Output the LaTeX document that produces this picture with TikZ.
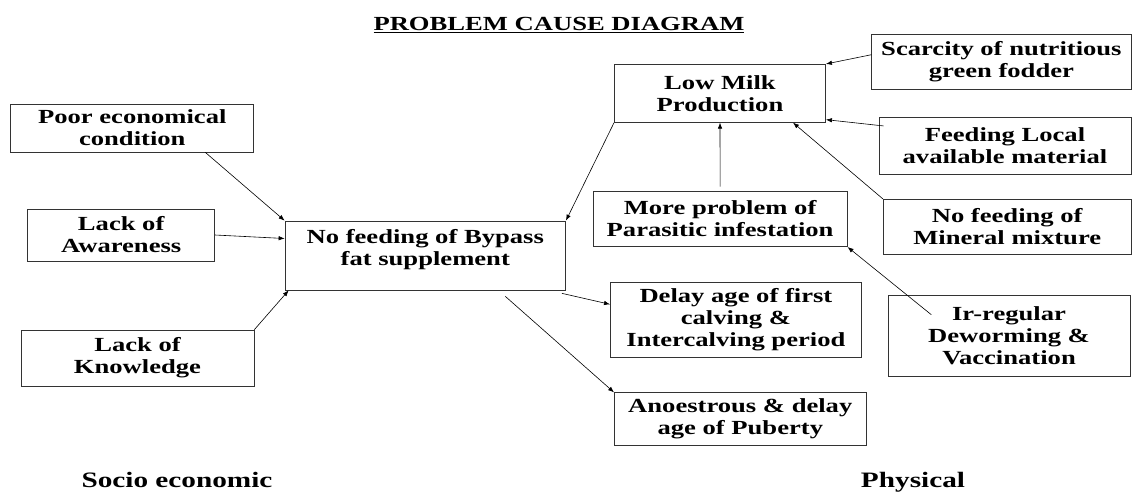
\documentclass[tikz,border=0pt]{standalone}
\usepackage{fontspec}
\setmainfont{Liberation Serif}[FakeStretch=1.33]
\usetikzlibrary{arrows.meta}

\begin{document}
\begin{tikzpicture}[x=1pt, y=-1pt,
  cause/.style={draw=black!80, line width=0.7pt, inner sep=0pt, align=center,
    font=\fontsize{20}{22}\selectfont\bfseries},
  link/.style={-{Latex[length=6pt,width=4.5pt]}, line width=0.6pt},
  side/.style={anchor=base, inner sep=0pt, font=\fontsize{22}{24}\selectfont\bfseries}]
  \useasboundingbox (0,0) rectangle (1134,493);

  % Title
  \node[anchor=base, font=\fontsize{20}{22}\selectfont\bfseries] (title) at (559,30.5) {\underline{PROBLEM CAUSE DIAGRAM}};

  % Socio economic side
  \node[cause, minimum width=243pt, minimum height=48pt] (poor)  at (132.3,128) {Poor economical\\condition};
  \node[cause, minimum width=187pt, minimum height=52pt] (aware) at (121.2,235) {Lack of\\Awareness};
  \node[cause, minimum width=233pt, minimum height=56pt] (know)  at (137.5,358) {Lack of\\Knowledge};

  % Centre problem (text sits high in the box)
  \node[cause, minimum width=280.6pt, minimum height=69pt, text depth=16pt] (bypass) at (425.3,255.5) {No feeding of Bypass\\fat supplement};

  % Physical side
  \node[cause, minimum width=211.2pt, minimum height=58pt] (milk)     at (720,93.3)    {Low Milk\\Production};
  \node[cause, minimum width=259.2pt, minimum height=54.7pt] (fodder) at (1001.4,61.7) {Scarcity of nutritious\\green fodder};
  \node[cause, minimum width=252pt, minimum height=57pt] (local)      at (1005,145.8)  {Feeding Local\\available material};
  \node[cause, minimum width=254.2pt, minimum height=55.7pt] (parasite) at (720.1,218.8) {More problem of\\Parasitic infestation};
  \node[cause, minimum width=247.7pt, minimum height=54.7pt] (mineral)  at (1007.2,226.7) {No feeding of\\Mineral mixture};
  \node[cause, minimum width=251.1pt, minimum height=75pt] (calving)  at (735.9,319.8) {Delay age of first\\calving \&\\Intercalving period};
  \node[cause, minimum width=241.7pt, minimum height=80.3pt] (deworm) at (1009,335.9)  {Ir-regular\\Deworming \&\\Vaccination};
  \node[cause, minimum width=251.8pt, minimum height=52.3pt] (puberty) at (740.3,418.9) {Anoestrous \& delay\\age of Puberty};

  % Side labels
  \node[side] (socio) at (177,487) {Socio economic};
  \node[side] (phys)  at (913,487) {Physical};

  % Arrows into the centre problem
  \draw[link] ([xshift=73pt]poor.south) -- (bypass.north west);
  \draw[link] (aware.east) -- ([yshift=17pt]bypass.west);
  \draw[link] (know.north east) -- ([xshift=4pt]bypass.south west);
  \draw[link] (milk.south west) -- (bypass.north east);

  % Arrows into low milk production
  \draw[link] ([yshift=7pt]fodder.west) -- (milk.north east);
  \draw[link] ([xshift=5pt,yshift=-9pt]local.north west) -- ([yshift=3pt]milk.south east);
  \draw[link] ([yshift=4pt]parasite.north) -- (milk.south);
  \draw[link] (mineral.north west) -- ([xshift=73pt]milk.south);
  \draw[link] ([xshift=43.5pt,yshift=-19.3pt]deworm.north west) -- (parasite.south east);

  % Effects of the centre problem
  \draw[link] ([xshift=-4pt,yshift=-3pt]bypass.south east) -- ([yshift=15.5pt]calving.west);
  \draw[link] ([xshift=80pt,yshift=-6pt]bypass.south) -- (puberty.north west);
\end{tikzpicture}
\end{document}
